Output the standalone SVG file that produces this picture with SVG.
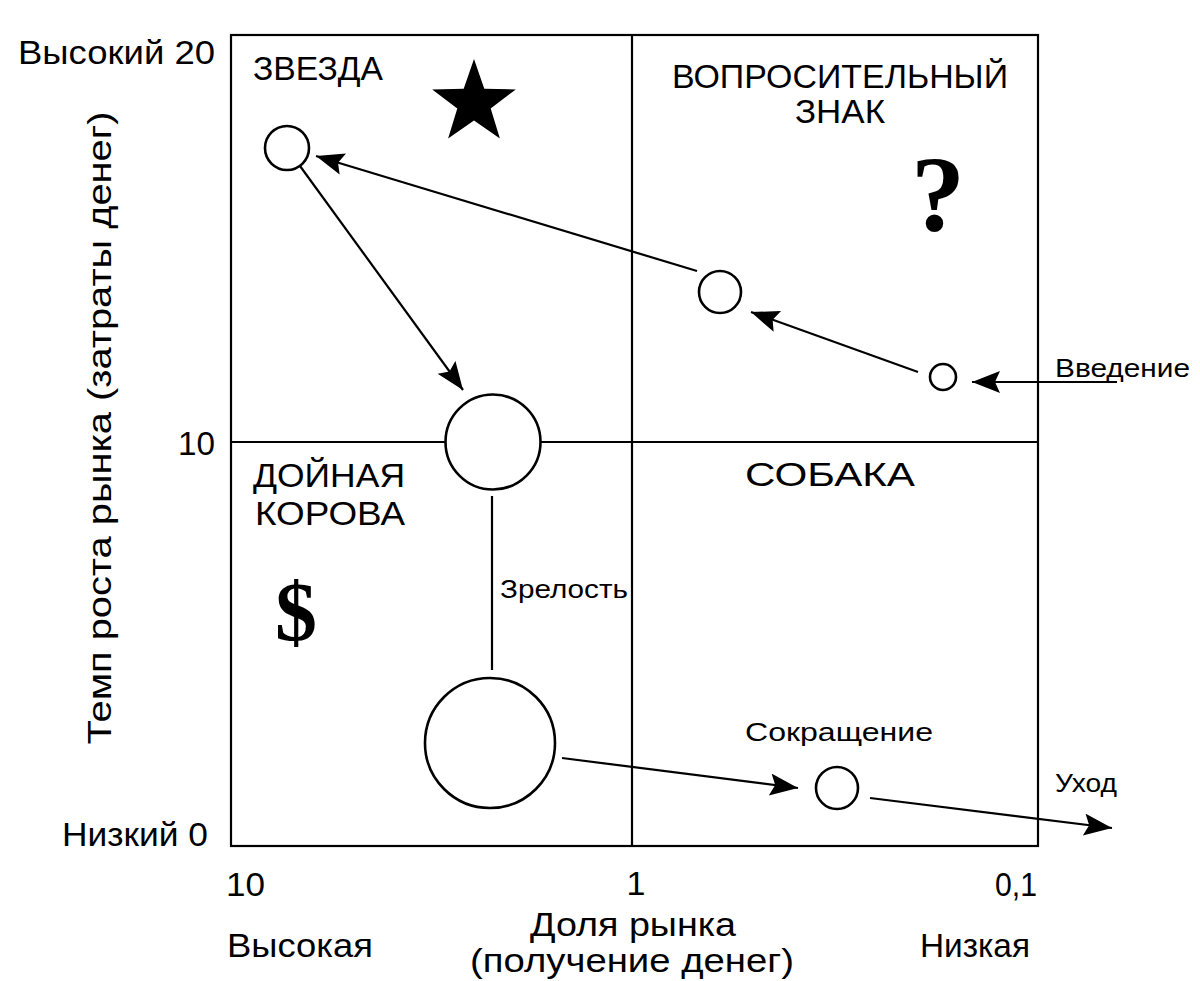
<svg xmlns="http://www.w3.org/2000/svg" width="1200" height="981" viewBox="0 0 1200 981">
<style>
.t{font-family:"Liberation Sans","DejaVu Sans",Arial,sans-serif;fill:#000}
.big{font-size:34px}
.mid{font-size:26px}
.ln{stroke:#000;stroke-width:2.2;fill:none}
.c{stroke:#000;stroke-width:2.6;fill:#fff}
.ar{stroke:#000;stroke-width:2.2;fill:none;marker-end:url(#ah)}
</style>
<defs>
<marker id="ah" markerUnits="userSpaceOnUse" markerWidth="32" markerHeight="26" refX="28" refY="11" orient="auto" viewBox="0 0 32 26">
<path d="M0,0 L28,11 L0,22 L5,11 z" fill="#000"/>
</marker>
</defs>
<rect width="1200" height="981" fill="#fff"/>

<g id="frame">
<rect x="231" y="35" width="807" height="811" class="ln" stroke-width="2.8"/>
<line x1="632" y1="35" x2="632" y2="846" class="ln"/>
<line x1="231" y1="442" x2="1038" y2="442" class="ln"/>
</g>

<g id="axis-labels">
<text class="t big" x="215" y="64" text-anchor="end" textLength="197" lengthAdjust="spacingAndGlyphs">Высокий 20</text>
<text class="t big" x="215" y="455" text-anchor="end" textLength="37" lengthAdjust="spacingAndGlyphs">10</text>
<text class="t big" x="208" y="846" text-anchor="end" textLength="146" lengthAdjust="spacingAndGlyphs">Низкий 0</text>
<text class="t big" transform="translate(111,428) rotate(-90)" text-anchor="middle" textLength="633" lengthAdjust="spacingAndGlyphs">Темп роста рынка (затраты денег)</text>
<text class="t big" x="226" y="896" textLength="39" lengthAdjust="spacingAndGlyphs">10</text>
<text class="t big" x="636" y="895" text-anchor="middle">1</text>
<text class="t big" x="1037" y="896" text-anchor="end" textLength="42" lengthAdjust="spacingAndGlyphs">0,1</text>
<text class="t big" x="633" y="936" text-anchor="middle" textLength="206" lengthAdjust="spacingAndGlyphs">Доля рынка</text>
<text class="t big" x="632" y="972" text-anchor="middle" textLength="324" lengthAdjust="spacingAndGlyphs">(получение денег)</text>
<text class="t big" x="227" y="957" textLength="146" lengthAdjust="spacingAndGlyphs">Высокая</text>
<text class="t big" x="1030" y="957" text-anchor="end" textLength="110" lengthAdjust="spacingAndGlyphs">Низкая</text>
</g>

<g id="quadrant-star">
<text class="t big" x="253" y="80" textLength="130" lengthAdjust="spacingAndGlyphs">ЗВЕЗДА</text>
<polygon points="474,59 484.3,88.8 515.8,89.4 490.7,108.4 499.9,138.6 474,120.6 448.1,138.6 457.3,108.4 432.2,89.4 463.7,88.8" fill="#000"/>
</g>

<g id="quadrant-question">
<text class="t big" x="840" y="88" text-anchor="middle" textLength="336" lengthAdjust="spacingAndGlyphs">ВОПРОСИТЕЛЬНЫЙ</text>
<text class="t big" x="840" y="123" text-anchor="middle" textLength="90" lengthAdjust="spacingAndGlyphs">ЗНАК</text>
<text x="938" y="230" text-anchor="middle" style="font-family:'Liberation Serif','DejaVu Serif',serif;font-weight:bold;font-size:108px">?</text>
</g>

<g id="quadrant-cow">
<text class="t big" x="253" y="487" textLength="152" lengthAdjust="spacingAndGlyphs">ДОЙНАЯ</text>
<text class="t big" x="255" y="525" textLength="150" lengthAdjust="spacingAndGlyphs">КОРОВА</text>
<text x="296" y="641" text-anchor="middle" style="font-family:'Liberation Serif','DejaVu Serif',serif;font-weight:bold;font-size:84px">$</text>
</g>

<g id="quadrant-dog">
<text class="t big" x="830" y="486" text-anchor="middle" textLength="170" lengthAdjust="spacingAndGlyphs">СОБАКА</text>
</g>

<g id="connectors">
<line x1="697" y1="271" x2="316" y2="156" class="ar"/>
<line x1="300" y1="166" x2="463" y2="390" class="ar"/>
<line x1="918" y1="372" x2="751" y2="312" class="ar"/>
<line x1="1117" y1="382" x2="972" y2="382" class="ar"/>
<line x1="492" y1="496" x2="492" y2="670" class="ln"/>
<line x1="562" y1="758" x2="798" y2="788" class="ar"/>
<line x1="870" y1="798" x2="1112" y2="828" class="ar"/>
</g>

<g id="node-star"><circle cx="287" cy="148" r="22" class="c"/></g>
<g id="node-question"><circle cx="720" cy="292" r="21" class="c"/></g>
<g id="node-intro"><circle cx="943" cy="377" r="13" class="c"/></g>
<g id="node-growth"><circle cx="493" cy="442" r="47.5" class="c"/></g>
<g id="node-maturity"><circle cx="490" cy="743" r="65" class="c"/></g>
<g id="node-decline"><circle cx="837" cy="788" r="21" class="c"/></g>

<g id="stage-labels">
<text class="t mid" x="500" y="598" textLength="128" lengthAdjust="spacingAndGlyphs">Зрелость</text>
<text class="t mid" x="1055" y="377" textLength="135" lengthAdjust="spacingAndGlyphs">Введение</text>
<text class="t mid" x="745" y="741" textLength="188" lengthAdjust="spacingAndGlyphs">Сокращение</text>
<text class="t mid" x="1055" y="792" textLength="62" lengthAdjust="spacingAndGlyphs">Уход</text>
</g>
</svg>
